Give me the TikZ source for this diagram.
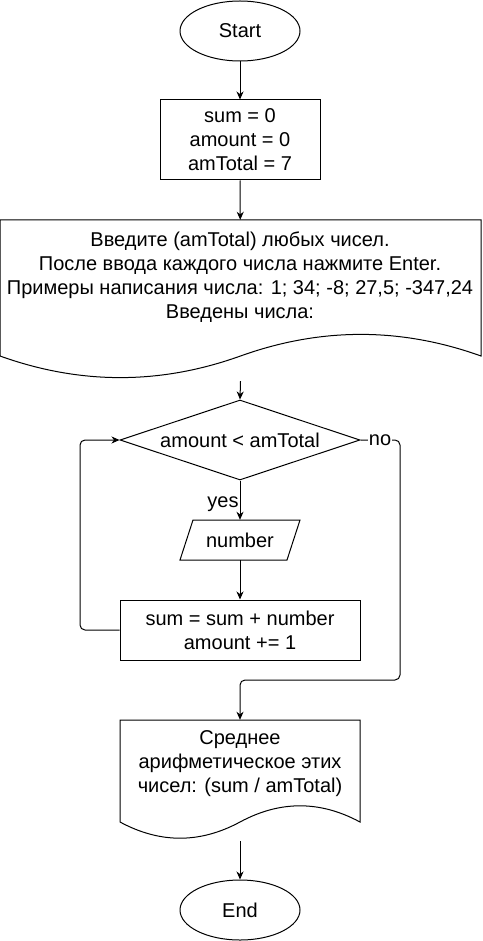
\documentclass[tikz,border=0pt]{standalone}
\usepackage{fontspec}
\setmainfont{Liberation Sans}
\usetikzlibrary{shapes.geometric,arrows.meta}
\begin{document}
\begin{tikzpicture}[x=1pt,y=-1pt,
  every node/.style={font=\fontsize{20}{24}\selectfont, align=center, inner sep=0pt},
  ln/.style={line width=1pt, draw=black},
  arr/.style={ln, -{Stealth[length=8pt,width=7pt,inset=2.5pt]}},
  term/.style={ellipse, ln, minimum width=120pt, minimum height=60pt},
  procbox/.style={rectangle, ln, minimum width=160pt, minimum height=80pt},
  frame/.style={rectangle, draw=none, inner sep=0pt},
  lbl/.style={fill=white, inner sep=1pt}
]
\useasboundingbox (0,0) rectangle (482,941);

% Start
\node[term] (start) at (240,31) {Start};
% init
\node[procbox] (init) at (240,140) {sum = 0\\amount = 0\\amTotal = 7};
% document 1
\node[frame, minimum width=481pt, minimum height=160pt] (doc1) at (240.5,300) {};
\draw[ln] (0,220) -- (481,220) -- (481,356)
  .. controls (400.8,327.2) and (320.7,327.2) .. (240.5,356)
  .. controls (160.3,384.8) and (80.2,384.8) .. (0,356) -- cycle;
\node (doc1txt) at (240,277) {Введите (amTotal) любых чисел.\\После ввода каждого числа нажмите Enter.\\Примеры написания числа: 1; 34; -8; 27,5; -347,24\\Введены числа:};
% decision
\node[diamond, ln, minimum width=240pt, minimum height=80pt, aspect=3] (dia) at (240,440) {amount < amTotal};
% input
\node[frame, minimum width=120pt, minimum height=40pt] (inp) at (240,540) {number};
\draw[ln] (180,560) -- (287,560) -- (300,520) -- (193,520) -- cycle;
% update
\node[rectangle, ln, minimum width=240pt, minimum height=60pt] (upd) at (240,630) {sum = sum + number\\amount += 1};
% output document
\node[frame, minimum width=240pt, minimum height=120pt] (out) at (240,780) {};
\draw[ln] (120,720) -- (360,720) -- (360,822)
  .. controls (320,800.4) and (280,800.4) .. (240,822)
  .. controls (200,843.6) and (160,843.6) .. (120,822) -- cycle;
\node (outtxt) at (240,764) {Среднее\\арифметическое этих\\чисел: (sum / amTotal)};
% End
\node[term] (end) at (240,910) {End};

% connectors
\draw[arr] (start) -- (init);
\draw[arr] (init) -- (doc1);
\draw[arr] ([yshift=-1pt]doc1.south) -- (dia.north);
\draw[arr] (dia.south) -- (inp.north) node[pos=0.6, left=1pt] (yes) {yes};
\draw[arr] (inp.south) -- (upd.north);
\coordinate (lpA) at (80,630);
\coordinate (lpB) at (80,440);
\draw[arr, rounded corners=5pt] (upd.west) -- (lpA) -- (lpB) -- (dia.west);
\coordinate (noA) at (400,440);
\coordinate (noB) at (400,680);
\coordinate (noC) at (240,680);
\draw[arr, rounded corners=5pt] (dia.east) -- (noA) -- (noB) -- (noC) -- (out.north);
\node[lbl] (no) at (380,440) {no};
\draw[arr] ([yshift=-1pt]out.south) -- (end.north);
\end{tikzpicture}
\end{document}
